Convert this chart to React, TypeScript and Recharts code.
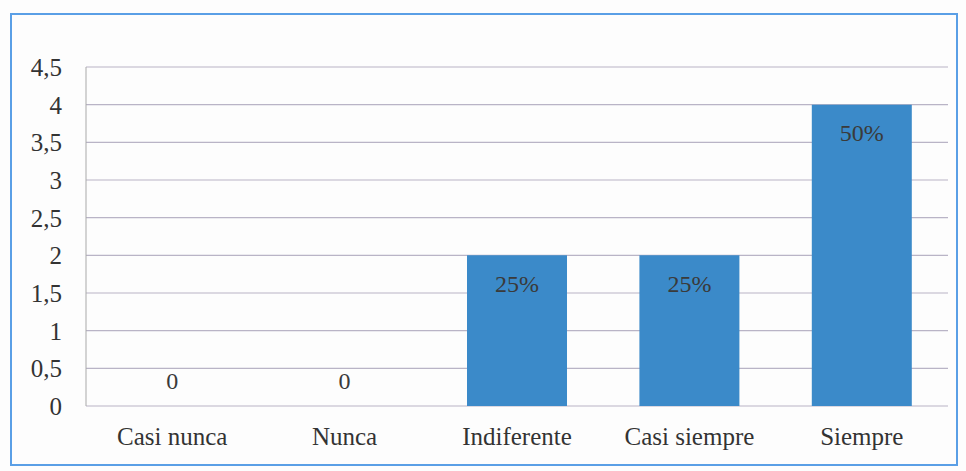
import React from "react";
import { BarChart, Bar, XAxis, YAxis, CartesianGrid, LabelList, Cell } from "recharts";

/* ------------------------------------------------------------------ */
/*  Data                                                               */
/* ------------------------------------------------------------------ */

const CATEGORIES = ["Casi nunca", "Nunca", "Indiferente", "Casi siempre", "Siempre"];
const VALUES = [0, 0, 2, 2, 4];
const LABELS = ["0", "0", "25%", "25%", "50%"];
const Y_TICKS = [0, 0.5, 1, 1.5, 2, 2.5, 3, 3.5, 4, 4.5];

const data = CATEGORIES.map((name, i) => ({ name, value: VALUES[i], label: LABELS[i] }));

const FONT = "'Liberation Serif', 'Times New Roman', serif";
const BAR_COLOR = "#3b8ac9";

/* ------------------------------------------------------------------ */
/*  Label                                                              */
/* ------------------------------------------------------------------ */

function BarLabel(props: any) {
  const { x, y, width, height, value } = props;
  const cx = x + width / 2;
  const isZero = Math.abs(height || 0) < 2;
  const ty = isZero ? y - 22 : y + 31;
  return (
    <text
      x={cx}
      y={ty}
      textAnchor="middle"
      dominantBaseline="middle"
      fill="#3a3a3a"
      fontFamily={FONT}
      fontSize={24}
    >
      {value}
    </text>
  );
}

/* ------------------------------------------------------------------ */
/*  Component                                                          */
/* ------------------------------------------------------------------ */

export default function App() {
  return (
    <div
      style={{
        position: "absolute",
        left: 0,
        top: 0,
        width: 966,
        height: 471,
        background: "#fdfdfd",
        fontFamily: FONT,
      }}
    >
      <div
        style={{
          position: "absolute",
          left: 10,
          top: 13,
          width: 948,
          height: 453,
          border: "2px solid #5a9fe6",
          boxSizing: "border-box",
        }}
      />
      <div style={{ position: "absolute", left: 0, top: 0 }}>
        <BarChart
          width={966}
          height={471}
          data={data}
          margin={{ top: 67, right: 18, bottom: 20, left: 10 }}
          barCategoryGap="21%"
        >
          <CartesianGrid vertical={false} stroke="#b9b4c6" strokeWidth={1.2} />
          <XAxis
            dataKey="name"
            height={45}
            axisLine={false}
            tickLine={false}
            tickSize={0}
            tickMargin={21}
            tick={{ fill: "#333", fontSize: 25, fontFamily: FONT }}
            interval={0}
          />
          <YAxis
            width={76}
            domain={[0, 4.5]}
            ticks={Y_TICKS}
            axisLine={{ stroke: "#a9a9a9" }}
            tickLine={false}
            tickSize={0}
            tickMargin={24}
            tickFormatter={(v: number) => String(v).replace(".", ",")}
            tick={{ fill: "#333", fontSize: 25, fontFamily: FONT }}
          />
          <Bar dataKey="value" fill={BAR_COLOR} minPointSize={1} isAnimationActive={false}>
            {data.map((d, i) => (
              <Cell key={i} fill={d.value === 0 ? "none" : BAR_COLOR} />
            ))}
            <LabelList dataKey="label" content={<BarLabel />} />
          </Bar>
        </BarChart>
      </div>
    </div>
  );
}
